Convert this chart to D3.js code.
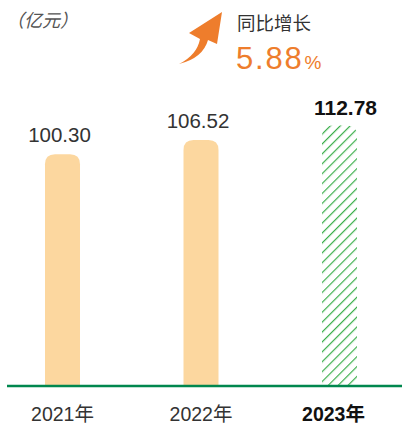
<!DOCTYPE html>
<html>
<head>
<meta charset="utf-8">
<script src="https://cdn.jsdelivr.net/npm/d3@7"></script>
<style>
  body { margin: 0; background: #fff; }
  text { font-family: "Liberation Sans", Arial, "Noto Sans CJK SC", sans-serif; }
</style>
</head>
<body>
<svg></svg>
<script>
const years  = ['2021年', '2022年', '2023年'];
const values = [100.30, 106.52, 112.78];
const growth = '5.88';

const width = 402, height = 425;
const svg = d3.select('svg').attr('width', width).attr('height', height);

const barW = 35;
const x = d3.scalePoint().domain(years).range([62.5, 339.5]);
const y = d3.scaleLinear().domain([0, 100]).range([386, 155]);

// hatch pattern for latest year
const defs = svg.append('defs');
const pat = defs.append('pattern')
  .attr('id', 'hatch')
  .attr('patternUnits', 'userSpaceOnUse')
  .attr('width', 7).attr('height', 7)
  .attr('patternTransform', 'rotate(45)');
pat.append('line')
  .attr('x1', 0).attr('y1', 0).attr('x2', 0).attr('y2', 7)
  .attr('stroke', '#3aae4a').attr('stroke-width', 2.4);

const r = 10;
function barPath(d, i) {
  const x0 = x(years[i]) - barW / 2, w = barW, y0 = y(d), y1 = y(0);
  return `M${x0},${y1}V${y0 + r}Q${x0},${y0} ${x0 + r},${y0}H${x0 + w - r}Q${x0 + w},${y0} ${x0 + w},${y0 + r}V${y1}Z`;
}

svg.append('g').selectAll('path')
  .data(values)
  .enter().append('path')
  .attr('d', barPath)
  .attr('fill', (d, i) => i === values.length - 1 ? 'url(#hatch)' : '#fcd79f');

// value labels
const last = values.length - 1;
svg.append('g').selectAll('text')
  .data(values)
  .enter().append('text')
  .attr('x', (d, i) => x(years[i]) + (i === last ? 6 : -3))
  .attr('y', (d, i) => y(d) - (i === last ? 10 : 12))
  .attr('text-anchor', 'middle')
  .style('font-size', (d, i) => i === last ? '21px' : '20.5px')
  .style('font-weight', (d, i) => i === last ? 'bold' : 'normal')
  .style('fill', (d, i) => i === last ? '#111' : '#333')
  .text(d => d.toFixed(2));

// baseline
svg.append('line')
  .attr('x1', 7).attr('x2', 402)
  .attr('y1', y(0)).attr('y2', y(0))
  .attr('stroke', '#00874e').attr('stroke-width', 2.5);

// x labels
svg.append('g').selectAll('text')
  .data(years)
  .enter().append('text')
  .attr('x', (d, i) => x(d) + (i === last ? -6 : 0))
  .attr('y', 421)
  .attr('text-anchor', 'middle')
  .style('font-size', '19.5px')
  .style('font-weight', (d, i) => i === last ? 'bold' : 'normal')
  .style('fill', (d, i) => i === last ? '#111' : '#333')
  .text(d => d);

// unit
svg.append('text')
  .attr('x', 6).attr('y', 27)
  .style('font-size', '18px')
  .style('font-style', 'italic')
  .style('fill', '#555')
  .text('（亿元）');

// growth arrow
svg.append('path')
  .attr('d', 'M179,64 Q197,55 200,39 L189,33 L222,12 L217,44 L208,40 Q203,58 179,64 Z')
  .attr('fill', '#ee7d2c');

svg.append('text')
  .attr('x', 237).attr('y', 30)
  .style('font-size', '18.5px')
  .style('fill', '#333')
  .text('同比增长');

const g = svg.append('text')
  .attr('x', 236).attr('y', 69)
  .style('fill', '#ee7d2c');
g.append('tspan').style('font-size', '31px').style('letter-spacing', '1.8px').text(growth);
g.append('tspan').style('font-size', '19px').attr('dx', 1).text('%');
</script>
</body>
</html>
